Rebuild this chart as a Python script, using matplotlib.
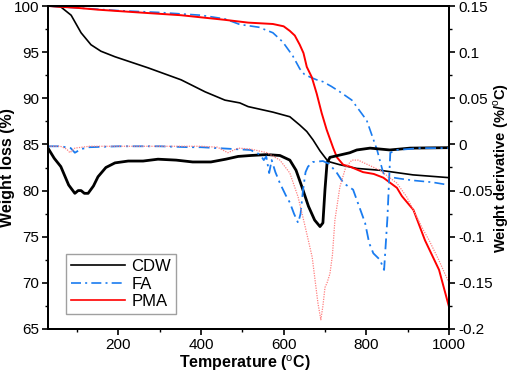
import matplotlib
matplotlib.use("Agg")
import matplotlib.pyplot as plt
from matplotlib.ticker import MultipleLocator, FuncFormatter
from matplotlib.lines import Line2D

plt.rcParams['font.family'] = ['Liberation Sans', 'DejaVu Sans']
plt.rcParams['axes.unicode_minus'] = False
plt.rcParams['mathtext.fontset'] = 'custom'
plt.rcParams['mathtext.rm'] = 'Liberation Sans'

# ---- CDW thermogravimetric (weight loss %) ----
cdw_tg_T = [30, 50, 61, 86, 110, 134, 158, 192, 272, 352, 410, 458, 494, 514, 574, 615, 639, 656, 671, 688, 705, 712, 736, 777, 833, 913, 1000]
cdw_tg_W = [100, 99.95, 99.9, 99.0, 97.1, 95.8, 95.1, 94.5, 93.3, 92.0, 90.7, 89.8, 89.5, 89.1, 88.5, 88.0, 87.1, 86.4, 85.5, 84.3, 83.3, 83.1, 82.8, 82.4, 82.2, 81.7, 81.4]

# ---- FA weight loss ----
fa_tg_T = [30, 100, 200, 300, 400, 458, 494, 540, 574, 598, 622, 639, 650, 664, 680, 695, 715, 736, 765, 801, 826, 841, 853, 880, 913, 960, 1000]
fa_tg_W = [100, 99.8, 99.5, 99.3, 99.0, 98.6, 98.0, 97.7, 97.1, 96.1, 94.6, 93.2, 92.6, 92.3, 92.0, 91.8, 91.3, 90.7, 89.8, 87.6, 84.4, 81.9, 81.5, 81.3, 81.1, 80.9, 80.6]

# ---- PMA weight loss ----
pma_tg_T = [30, 100, 151, 250, 352, 458, 514, 574, 600, 615, 627, 639, 648, 656, 668, 680, 692, 704, 712, 720, 729, 744, 760, 792, 818, 841, 874, 886, 914, 942, 976, 1000]
pma_tg_W = [100, 99.8, 99.6, 99.3, 99.0, 98.5, 98.2, 98.05, 97.8, 97.3, 96.8, 95.8, 94.9, 93.4, 92.3, 90.5, 88.4, 86.6, 85.6, 84.6, 83.6, 82.8, 82.6, 82.0, 81.8, 81.4, 80.3, 79.4, 77.9, 74.6, 71.4, 67.4]

# ---- CDW derivative (%/oC) ----
cdw_dtg_T = [30, 45, 61, 80, 95, 103, 110, 118, 127, 140, 151, 170, 192, 224, 260, 296, 340, 380, 424, 460, 490, 520, 560, 591, 615, 630, 645, 660, 675, 688, 695, 700, 705, 712, 760, 777, 809, 857, 906, 1000]
cdw_dtg_D = [-0.004, -0.015, -0.024, -0.044, -0.053, -0.050, -0.050, -0.053, -0.053, -0.045, -0.035, -0.025, -0.020, -0.018, -0.018, -0.016, -0.017, -0.019, -0.019, -0.016, -0.013, -0.012, -0.011, -0.012, -0.017, -0.028, -0.047, -0.067, -0.082, -0.089, -0.085, -0.049, -0.020, -0.014, -0.009, -0.006, -0.004, -0.006, -0.004, -0.0035]

# ---- FA derivative ----
fa_dtg_T = [30, 60, 85, 95, 110, 130, 200, 300, 373, 400, 440, 480, 520, 543, 552, 558, 565, 571, 580, 591, 605, 615, 625, 635, 641, 647, 653, 659, 671, 695, 710, 729, 745, 768, 797, 807, 817, 833, 843, 851, 858, 874, 930, 1000]
fa_dtg_D = [-0.002, -0.002, -0.004, -0.009, -0.005, -0.003, -0.002, -0.002, -0.003, -0.003, -0.004, -0.005, -0.006, -0.011, -0.017, -0.013, -0.031, -0.017, -0.030, -0.042, -0.055, -0.063, -0.075, -0.085, -0.075, -0.049, -0.030, -0.024, -0.019, -0.018, -0.021, -0.031, -0.042, -0.049, -0.085, -0.107, -0.118, -0.125, -0.136, -0.080, -0.009, -0.006, -0.004, -0.004]

# ---- PMA derivative ----
pma_dtg_T = [30, 60, 75, 83, 95, 130, 200, 300, 400, 440, 465, 490, 520, 560, 591, 615, 635, 652, 669, 683, 690, 695, 700, 705, 712, 718, 724, 736, 750, 765, 780, 833, 874, 898, 937, 952, 975, 1000]
pma_dtg_D = [-0.002, -0.002, -0.005, -0.009, -0.004, -0.002, -0.002, -0.002, -0.002, -0.003, -0.009, -0.004, -0.005, -0.009, -0.017, -0.031, -0.057, -0.089, -0.122, -0.172, -0.190, -0.175, -0.155, -0.150, -0.140, -0.120, -0.082, -0.046, -0.025, -0.017, -0.017, -0.028, -0.042, -0.057, -0.092, -0.104, -0.125, -0.150]

series_names = ['CDW', 'FA', 'PMA']
blue = '#1a7cf0'

fig = plt.figure(figsize=(5.12, 3.8), dpi=100)
ax = fig.add_axes([48/512, 1-329/380, (449-48)/512, (329-6)/380])
ax2 = ax.twinx()

ax.plot(cdw_tg_T, cdw_tg_W, color='black', lw=1.2)
ax.plot(fa_tg_T, fa_tg_W, color=blue, lw=1.2, dashes=(6, 2.5, 1.2, 2.5))
ax.plot(pma_tg_T, pma_tg_W, color='#ff0000', lw=1.4)

ax2.plot(cdw_dtg_T, cdw_dtg_D, color='black', lw=2.0)
ax2.plot(fa_dtg_T, fa_dtg_D, color=blue, lw=1.3, dashes=(6, 2.5, 1.2, 2.5))
ax2.plot(pma_dtg_T, pma_dtg_D, color='#ff8080', lw=0.9, ls=(0, (1, 1)))

ax.set_xlim(30, 1000)
ax.set_ylim(65, 100)
ax2.set_ylim(-0.2, 0.15)

ax.xaxis.set_major_locator(MultipleLocator(200))
ax.xaxis.set_minor_locator(MultipleLocator(100))
ax.yaxis.set_major_locator(MultipleLocator(5))
ax.yaxis.set_minor_locator(MultipleLocator(2.5))
ax2.yaxis.set_major_locator(MultipleLocator(0.05))
ax2.yaxis.set_minor_locator(MultipleLocator(0.025))
ax2.yaxis.set_major_formatter(FuncFormatter(lambda v, p: '%g' % round(v, 3) if abs(v) > 1e-9 else '0'))

for a in (ax, ax2):
    a.tick_params(which='major', direction='out', length=4, width=1.2, labelsize=11, pad=2.5)
    a.tick_params(which='minor', direction='out', length=2.5, width=1.0)
    for s in a.spines.values():
        s.set_linewidth(1.4)
ax.tick_params(top=False, right=False)

ax.set_xlabel(r'Temperature ($^{\mathrm{o}}$C)', fontsize=11.5, fontweight='bold')
ax.set_ylabel('Weight loss (%)', fontsize=11.5, fontweight='bold')
ax2.set_ylabel(r'Weight derivative (%/$^{\mathrm{o}}$C)', fontsize=10.5, fontweight='bold', rotation=90)
ax.yaxis.set_label_coords(-0.082, 0.5)
ax2.yaxis.set_label_coords(1.105, 0.5)
ax.xaxis.set_label_coords(0.49, -0.075)

handles = [Line2D([], [], color='black', lw=1.2),
           Line2D([], [], color=blue, lw=1.2, dashes=(6, 2.5, 1.2, 2.5)),
           Line2D([], [], color='#ff0000', lw=1.2)]
leg = ax.legend(handles, series_names, loc='lower left', bbox_to_anchor=(0.025, 0.02),
                fontsize=12, frameon=True, fancybox=False, edgecolor='#888888',
                handlelength=3.2, borderpad=0.3, labelspacing=0.15, handletextpad=0.4)
leg.get_frame().set_linewidth(1.0)

fig.savefig('out.png', dpi=100)
